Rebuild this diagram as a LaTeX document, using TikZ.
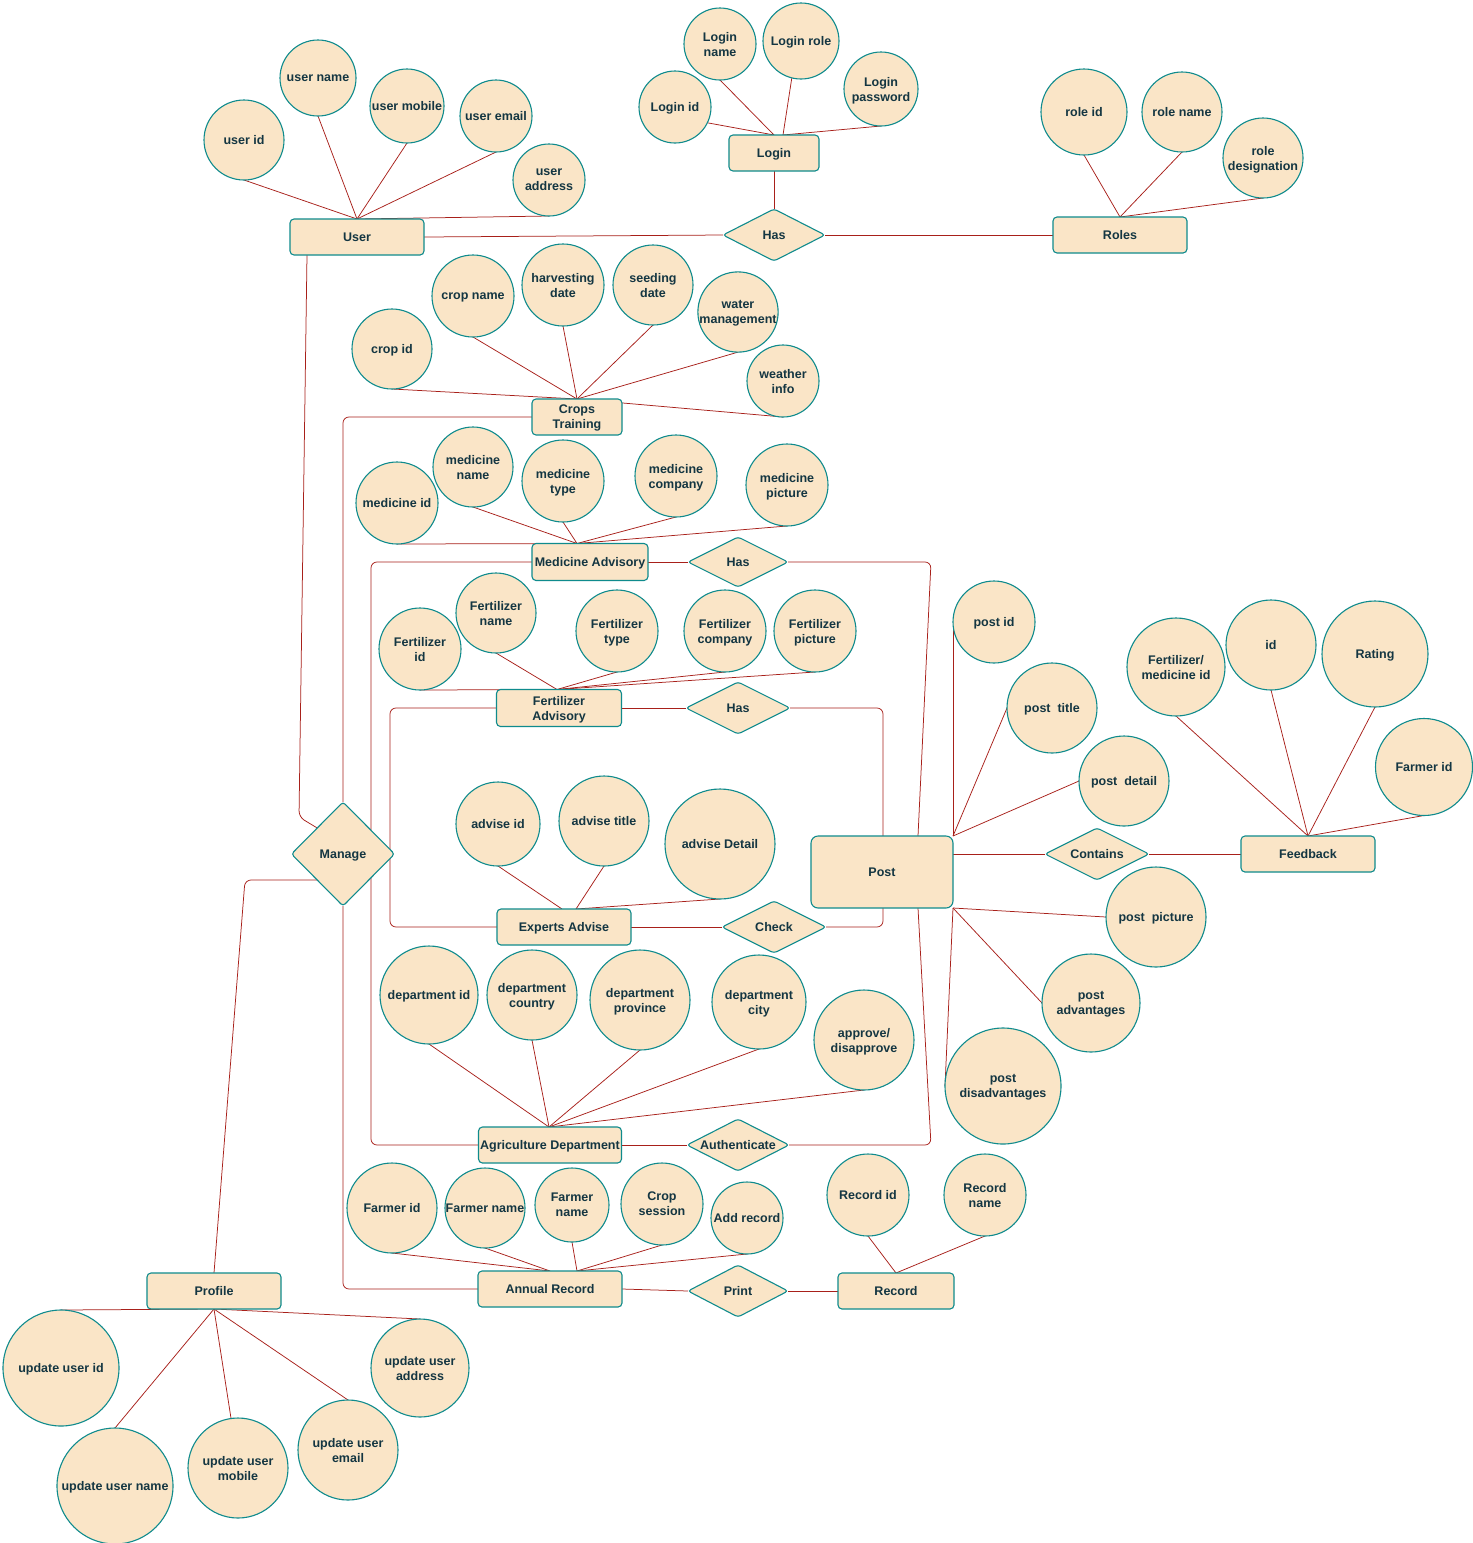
\documentclass[tikz,border=0pt]{standalone}
\usepackage{fontspec}
\setmainfont{Liberation Sans}
\usetikzlibrary{shapes.geometric,backgrounds}
\definecolor{fillc}{HTML}{FAE5C7}
\definecolor{strokec}{HTML}{0F8B8D}
\definecolor{edgec}{HTML}{A8201A}
\definecolor{textc}{HTML}{143642}
\begin{document}
\begin{tikzpicture}[x=1pt,y=-1pt,
  base/.style={fill=fillc,draw=strokec,line width=1.1pt,text=textc,font=\fontsize{12.5}{15}\selectfont\bfseries,align=center,inner sep=0pt,outer sep=0pt,text depth=-1.5pt},
  attr/.style={base,circle,minimum size=#1},
  ent/.style 2 args={base,rectangle,rounded corners=4pt,minimum width=#1,minimum height=#2},
  rel/.style 2 args={base,diamond,aspect=2,rounded corners=3pt,minimum width=#1,minimum height=#2},
  conn/.style={draw=edgec,line width=0.75pt},
  bent/.style={conn,rounded corners=6pt}]
\useasboundingbox (0,0) rectangle (1473,1543);

% User
\node[attr=80] (uid) at (244,140) {user id};
\node[attr=76] (uname) at (318,78) {user name};
\node[attr=74] (umob) at (407,106) {user mobile};
\node[attr=72] (uemail) at (496,116) {user email};
\node[attr=72] (uaddr) at (549,180) {user\\address};
\node[ent={134}{36}] (user) at (357,237) {User};

% Login
\node[attr=72] (lid) at (675,107) {Login id};
\node[attr=72] (lname) at (720,44) {Login\\name};
\node[attr=76] (lrole) at (801,41) {Login role};
\node[attr=74] (lpass) at (881,89) {Login\\password};
\node[ent={90}{36}] (login) at (774,153) {Login};
\node[rel={102}{52}] (has1) at (774,235) {Has};

% Roles
\node[attr=86] (rid) at (1084,112) {role id};
\node[attr=80] (rname) at (1182,112) {role name};
\node[attr=80] (rdes) at (1263,158) {role\\designation};
\node[ent={134}{36}] (roles) at (1120,235) {Roles};

% Crops
\node[attr=80] (cid) at (392,349) {crop id};
\node[attr=82] (cname) at (473,296) {crop name};
\node[attr=82] (charv) at (563,285) {harvesting\\date};
\node[attr=80] (cseed) at (653,285) {seeding\\date};
\node[attr=80] (cwater) at (738,312) {water\\management};
\node[attr=72] (cweather) at (783,381) {weather\\info};
\node[ent={90}{36}] (crops) at (577,417) {Crops\\Training};

% Medicine
\node[attr=82] (mid) at (397,503) {medicine id};
\node[attr=80] (mname) at (473,467) {medicine\\name};
\node[attr=82] (mtype) at (563,481) {medicine\\type};
\node[attr=82] (mcomp) at (676,476) {medicine\\company};
\node[attr=82] (mpic) at (787,485) {medicine\\picture};
\node[ent={116}{37}] (med) at (590,562) {Medicine Advisory};
\node[rel={100}{50}] (has2) at (738,562) {Has};

% Fertilizer
\node[attr=82] (fid) at (420,649) {Fertilizer\\id};
\node[attr=80] (fname) at (496,613) {Fertilizer\\name};
\node[attr=82] (ftype) at (617,631) {Fertilizer\\type};
\node[attr=82] (fcomp) at (725,631) {Fertilizer\\company};
\node[attr=82] (fpic) at (815,631) {Fertilizer\\picture};
\node[ent={125}{37}] (fert) at (559,708) {Fertilizer\\Advisory};
\node[rel={104}{52}] (has3) at (738,708) {Has};

% Experts
\node[attr=84] (aid) at (498,824) {advise id};
\node[attr=90] (atitle) at (604,821) {advise title};
\node[attr=110] (adetail) at (720,844) {advise Detail};
\node[ent={134}{36}] (exp) at (564,927) {Experts Advise};
\node[rel={104}{52}] (check) at (774,927) {Check};

% Post
\node[base,rectangle,rounded corners=7pt,minimum width=142,minimum height=72] (post) at (882,872) {Post};
\node[attr=82] (pid) at (994,622) {post id};
\node[attr=90] (ptitle) at (1052,708) {post\ \ title};
\node[attr=90] (pdetail) at (1124,781) {post\ \ detail};
\node[attr=100] (ppic) at (1156,917) {post\ \ picture};
\node[attr=98] (padv) at (1091,1003) {post\\advantages};
\node[attr=116] (pdis) at (1003,1086) {post\\disadvantages};
\node[rel={104}{52}] (contains) at (1097,854) {Contains};
\node[ent={134}{36}] (fb) at (1308,854) {Feedback};
\node[attr=98] (fmid) at (1176,667) {Fertilizer/\\medicine id};
\node[attr=90] (fbid) at (1271,645) {id};
\node[attr=106] (rating) at (1375,654) {Rating};
\node[attr=97] (farmid) at (1424,767) {Farmer id};

% Agriculture
\node[attr=98] (did) at (429,995) {department id};
\node[attr=90] (dcountry) at (532,995) {department\\country};
\node[attr=100] (dprov) at (640,1000) {department\\province};
\node[attr=94] (dcity) at (759,1002) {department\\city};
\node[attr=100] (approve) at (864,1040) {approve/\\disapprove};
\node[ent={143}{36}] (agri) at (550,1145) {Agriculture Department};
\node[rel={102}{52}] (auth) at (738,1145) {Authenticate};

% Annual record
\node[attr=90] (farid) at (392,1208) {Farmer id};
\node[attr=80] (farname) at (485,1208) {Farmer name};
\node[attr=74] (farname2) at (572,1205) {Farmer\\name};
\node[attr=82] (cropsess) at (662,1204) {Crop\\session};
\node[attr=72] (addrec) at (747,1218) {Add record};
\node[ent={144}{36}] (annual) at (550,1289) {Annual Record};
\node[rel={100}{52}] (print) at (738,1291) {Print};
\node[ent={116}{36}] (record) at (896,1291) {Record};
\node[attr=82] (recid) at (868,1195) {Record id};
\node[attr=82] (recname) at (985,1195) {Record\\name};

% Manage
\node[rel={103}{104},aspect=1] (manage) at (343,854) {Manage};

% Profile
\node[ent={134}{36}] (profile) at (214,1291) {Profile};
\node[attr=116] (uuid) at (61,1368) {update user id};
\node[attr=116] (uuname) at (115,1486) {update user name};
\node[attr=100] (uumob) at (238,1468) {update user\\mobile};
\node[attr=100] (uuemail) at (348,1450) {update user\\email};
\node[attr=98] (uuaddr) at (420,1368) {update user\\address};

\begin{pgfonlayer}{background}
\fill[white] (0,0) rectangle (1473,1543);
% user
\foreach \n in {uid,uname,umob,uemail,uaddr} \draw[conn] (\n.south) -- (user.north);
% login
\draw[conn] (lid.-26) -- (login.north);
\draw[conn] (lname.south) -- (login.north);
\draw[conn] (lrole.-104) -- ([xshift=9pt]login.north);
\draw[conn] (lpass.south) -- ([xshift=9pt]login.north);
\draw[conn] (login.south) -- (has1.north);
\draw[conn] (user.east) -- (has1.west);
\draw[conn] (has1.east) -- (roles.west);
% roles
\foreach \n in {rid,rname,rdes} \draw[conn] (\n.south) -- (roles.north);
% crops
\foreach \n in {cid,cname,charv,cseed,cwater,cweather} \draw[conn] (\n.south) -- (crops.north);
% medicine
\foreach \n in {mid,mname,mtype,mcomp,mpic} \draw[conn] (\n.south) -- ([xshift=-13pt]med.north);
\draw[conn] (med.east) -- (has2.west);
% fertilizer
\foreach \n in {fid,fname,ftype,fcomp,fpic} \draw[conn] (\n.south) -- ([xshift=-2pt]fert.north);
\draw[conn] (fert.east) -- (has3.west);
% experts
\draw[conn] (aid.south) -- ([xshift=-2pt]exp.north);
\draw[conn] (atitle.south) -- ([xshift=12pt]exp.north);
\draw[conn] (adetail.south) -- ([xshift=12pt]exp.north);
\draw[conn] (exp.east) -- (check.west);
% post
\foreach \n in {pid,ptitle,pdetail} \draw[conn] (\n.west) -- (post.north east);
\foreach \n in {ppic,padv,pdis} \draw[conn] (\n.west) -- (post.south east);
\draw[conn] (contains.west -| post.east) -- (contains.west);
\draw[conn] (contains.east) -- (fb.west);
\foreach \n in {fmid,fbid,rating,farmid} \draw[conn] (\n.south) -- (fb.north);
% agriculture
\foreach \n in {did,dcountry,dprov,dcity,approve} \draw[conn] (\n.south) -- ([xshift=-1pt]agri.north);
\draw[conn] (agri.east) -- (auth.west);
% annual
\draw[conn] (farid.south) -- (annual.north);
\draw[conn] (farname.south) -- (annual.north);
\foreach \n in {farname2,cropsess,addrec} \draw[conn] (\n.south) -- ([xshift=27pt]annual.north);
\draw[conn] (annual.east) -- (print.west);
\draw[conn] (print.east) -- (record.west);
\draw[conn] (recid.south) -- (record.north);
\draw[conn] (recname.south) -- (record.north);
% profile
\foreach \n in {uuid,uuname,uuemail,uuaddr} \draw[conn] (\n.north) -- (profile.south);
\draw[conn] (uumob.98) -- (profile.south);
% long connectors
\coordinate (w1) at (299,817);
\draw[bent] ([xshift=-50pt]user.south) -- (w1) -- (manage.north west);
\draw[bent] (crops.west) -| (manage.north);
\draw[bent] (manage.south) |- (annual.west);
\coordinate (ml) at (371,850);
\draw[bent] (med.west) -| (ml) |- (agri.west);
\coordinate (fl) at (390,800);
\draw[bent] (fert.west) -| (fl) |- (exp.west);
\coordinate (pw) at (245,880);
\draw[bent] (profile.north) -- (pw) -- (manage.south west);
\coordinate (h2c) at (931,562);
\draw[bent] (has2.east) -- (h2c) -- ([xshift=36pt]post.north);
\draw[bent] (has3.east) -| ([xshift=1pt]post.north);
\draw[bent] (check.east) -| ([xshift=1pt]post.south);
\coordinate (auc) at (931,1145);
\draw[bent] (auth.east) -- (auc) -- ([xshift=36pt]post.south);
\end{pgfonlayer}
\end{tikzpicture}
\end{document}
